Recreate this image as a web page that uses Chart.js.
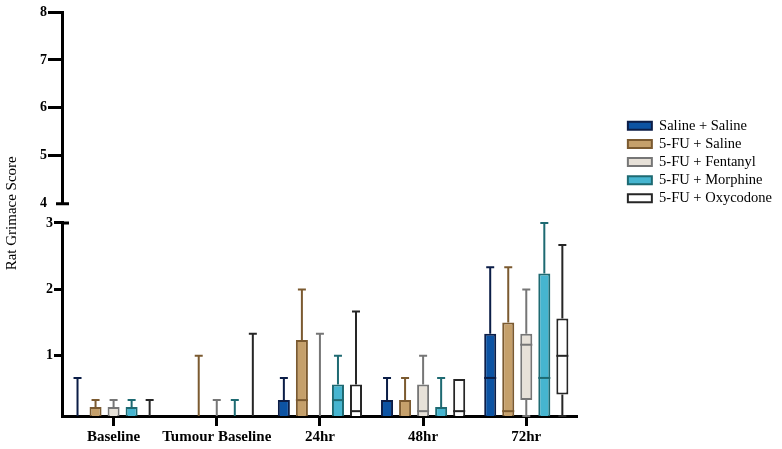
<!DOCTYPE html>
<html><head><meta charset="utf-8">
<script src="https://cdn.jsdelivr.net/npm/chart.js@4/dist/chart.umd.min.js"></script>
<style>html,body{margin:0;padding:0;background:#fff}canvas{display:block}</style>
</head><body>
<canvas id="c" width="782" height="449"></canvas>
<script>
// ---- DATA ----
const categories = ['Baseline', 'Tumour Baseline', '24hr', '48hr', '72hr'];
const seriesNames = ['Saline + Saline', '5-FU + Saline', '5-FU + Fentanyl', '5-FU + Morphine', '5-FU + Oxycodone'];
const lowerTicks = [1, 2, 3];
const upperTicks = [4, 5, 6, 7, 8];

// Saline + Saline
const ssMin = [0, 0, 0, 0, 0];
const ssQ1  = [0, 0, 0, 0, 0];
const ssMed = [0, 0, 0, 0, 0.667];
const ssQ3  = [0, 0, 0.333, 0.333, 1.333];
const ssMax = [0.667, 0, 0.667, 0.667, 2.333];
// 5-FU + Saline
const fsMin = [0, 0, 0, 0, 0];
const fsQ1  = [0, 0, 0, 0, 0];
const fsMed = [0, 0, 0.333, 0, 0.167];
const fsQ3  = [0.23, 0, 1.24, 0.333, 1.5];
const fsMax = [0.333, 1, 2, 0.667, 2.333];
// 5-FU + Fentanyl
const ffMin = [0, 0, 0, 0, 0];
const ffQ1  = [0, 0, 0, 0, 0.333];
const ffMed = [0, 0, 0, 0.167, 1.167];
const ffQ3  = [0.23, 0, 0, 0.57, 1.333];
const ffMax = [0.333, 0.333, 1.333, 1, 2];
// 5-FU + Morphine
const fmMin = [0, 0, 0, 0, 0];
const fmQ1  = [0, 0, 0, 0, 0];
const fmMed = [0, 0, 0.333, 0, 0.667];
const fmQ3  = [0.23, 0, 0.57, 0.23, 2.24];
const fmMax = [0.333, 0.333, 1, 0.667, 3];
// 5-FU + Oxycodone
const foMin = [0, 0, 0, 0, 0];
const foQ1  = [0, 0, 0, 0, 0.417];
const foMed = [0, 0, 0.167, 0.167, 1];
const foQ3  = [0, 0, 0.57, 0.65, 1.56];
const foMax = [0.333, 1.333, 1.667, 0.65, 2.667];

// ---- STYLES ----
const fills = ['#0c53a3', '#c5a06b', '#e7e1d8', '#46b5d0', '#ffffff'];
const lines = ['#0b1d47', '#7b5a30', '#767676', '#1e6a72', '#262626'];

const stats = [
  {min: ssMin, q1: ssQ1, med: ssMed, q3: ssQ3, max: ssMax},
  {min: fsMin, q1: fsQ1, med: fsMed, q3: fsQ3, max: fsMax},
  {min: ffMin, q1: ffQ1, med: ffMed, q3: ffQ3, max: ffMax},
  {min: fmMin, q1: fmQ1, med: fmMed, q3: fmQ3, max: fmMax},
  {min: foMin, q1: foQ1, med: foMed, q3: foQ3, max: foMax}
];

Chart.defaults.font.family = 'Liberation Serif';
Chart.defaults.color = '#000';

const datasets = seriesNames.map((name, k) => ({
  label: name,
  data: stats[k].q1.map((v, i) => [v, stats[k].q3[i]]),
  backgroundColor: fills[k],
  borderColor: lines[k],
  borderWidth: 2,
  borderSkipped: false,
  barPercentage: 0.667,
  categoryPercentage: 0.874,
  clip: 0,
  xAxisID: 'x',
  yAxisID: 'y'
}));

const whiskerPlugin = {
  id: 'whiskers',
  afterDatasetsDraw(chart) {
    const ctx = chart.ctx;
    const ys = chart.scales.y;
    const px = v => ys.getPixelForValue(Math.max(v, ys.min));
    ctx.save();
    ctx.lineCap = 'butt';
    chart.data.datasets.forEach((ds, k) => {
      const meta = chart.getDatasetMeta(k);
      const s = stats[k];
      meta.data.forEach((bar, i) => {
        const x = bar.x, w = bar.width;
        ctx.strokeStyle = lines[k];
        ctx.lineWidth = 2;
        const capW = 4;
        if (s.max[i] > s.q3[i]) {
          ctx.beginPath();
          ctx.moveTo(x, px(s.q3[i]));
          ctx.lineTo(x, px(s.max[i]));
          ctx.moveTo(x - capW, px(s.max[i]));
          ctx.lineTo(x + capW, px(s.max[i]));
          ctx.stroke();
        }
        if (s.min[i] < s.q1[i]) {
          ctx.beginPath();
          ctx.moveTo(x, px(s.q1[i]));
          ctx.lineTo(x, px(s.min[i]));
          ctx.moveTo(x - capW, px(s.min[i]));
          ctx.lineTo(x + capW, px(s.min[i]));
          ctx.stroke();
        }
        if (s.med[i] > ys.min && s.q3[i] > s.q1[i]) {
          ctx.beginPath();
          ctx.moveTo(x - w / 2, px(s.med[i]));
          ctx.lineTo(x + w / 2, px(s.med[i]));
          ctx.stroke();
        }
      });
    });
    ctx.restore();
  },
  afterDraw(chart) {
    // axis break caps
    const ctx = chart.ctx;
    const xl = chart.chartArea.left;
    const yLow = chart.scales.y, yTop = chart.scales.yTop;
    ctx.save();
    ctx.strokeStyle = '#000';
    ctx.lineWidth = 3;
    ctx.beginPath();
    ctx.moveTo(xl - 1, yLow.getPixelForValue(lowerTicks[lowerTicks.length - 1]));
    ctx.lineTo(xl + 7, yLow.getPixelForValue(lowerTicks[lowerTicks.length - 1]));
    ctx.moveTo(xl - 6, yTop.getPixelForValue(upperTicks[0]));
    ctx.lineTo(xl + 7, yTop.getPixelForValue(upperTicks[0]));
    ctx.stroke();
    ctx.restore();
  }
};

const tickFont = {family: 'Liberation Serif', size: 14, weight: 'bold'};
const LEFTW = 62;

new Chart(document.getElementById('c'), {
  type: 'bar',
  data: {labels: categories, datasets},
  options: {
    responsive: false,
    animation: false,
    layout: {padding: {top: 12, right: 0, bottom: 0, left: 0}},
    plugins: {
      tooltip: {enabled: false},
      legend: {
        position: 'right',
        align: 'start',
        maxWidth: 300,
        title: {display: true, text: ' ', padding: {top: 91, bottom: 0}, font: {size: 10}},
        labels: {boxWidth: 24, boxHeight: 8, padding: 3.6, color: '#000',
                 font: {family: 'Liberation Serif', size: 14.5}}
      }
    },
    scales: {
      x: {
        type: 'category',
        position: 'bottom',
        grid: {display: true, drawOnChartArea: false, offset: false, tickLength: 10, tickWidth: 3, tickColor: '#000'},
        border: {display: true, width: 3, color: '#000'},
        ticks: {font: {family: 'Liberation Serif', size: 15, weight: 'bold'}, color: '#000', padding: 2, maxRotation: 0, autoSkip: false},
        afterFit: s => { s.height = 33; }
      },
      y: {
        type: 'linear', axis: 'y', position: 'left', stack: 'ys', stackWeight: 192.7,
        min: 0.094, max: 3,
        afterBuildTicks: s => { s.ticks = lowerTicks.map(v => ({value: v})); },
        grid: {display: true, drawOnChartArea: false, tickLength: 8, tickWidth: 3, tickColor: '#000'},
        border: {display: true, width: 3, color: '#000'},
        ticks: {font: tickFont, color: '#000', padding: 1},
        afterFit: s => { s.width = LEFTW; }
      },
      yGap: {
        type: 'linear', axis: 'y', position: 'left', stack: 'ys', stackWeight: 19.3,
        min: 0, max: 1,
        grid: {display: false},
        border: {display: false},
        ticks: {display: false},
        title: {display: true, text: 'Rat Grimace Score', color: '#000', padding: {top: 3, bottom: 0},
                font: {family: 'Liberation Serif', size: 15}},
        afterFit: s => { s.width = LEFTW; }
      },
      yTop: {
        type: 'linear', axis: 'y', position: 'left', stack: 'ys', stackWeight: 191.3,
        min: 4, max: 8,
        afterBuildTicks: s => { s.ticks = upperTicks.map(v => ({value: v})); },
        grid: {display: true, drawOnChartArea: false, tickLength: 14, tickWidth: 3,
               tickColor: c => (c.tick && c.tick.value === upperTicks[0]) ? 'rgba(0,0,0,0)' : '#000'},
        border: {display: true, width: 3, color: '#000'},
        ticks: {font: tickFont, color: '#000', padding: 1},
        afterFit: s => { s.width = LEFTW; }
      },
      yR: {
        type: 'linear', axis: 'y', position: 'right',
        grid: {display: false}, border: {display: false}, ticks: {display: false},
        afterFit: s => { s.width = 46.4; }
      }
    }
  },
  plugins: [whiskerPlugin]
});
</script>
</body></html>
